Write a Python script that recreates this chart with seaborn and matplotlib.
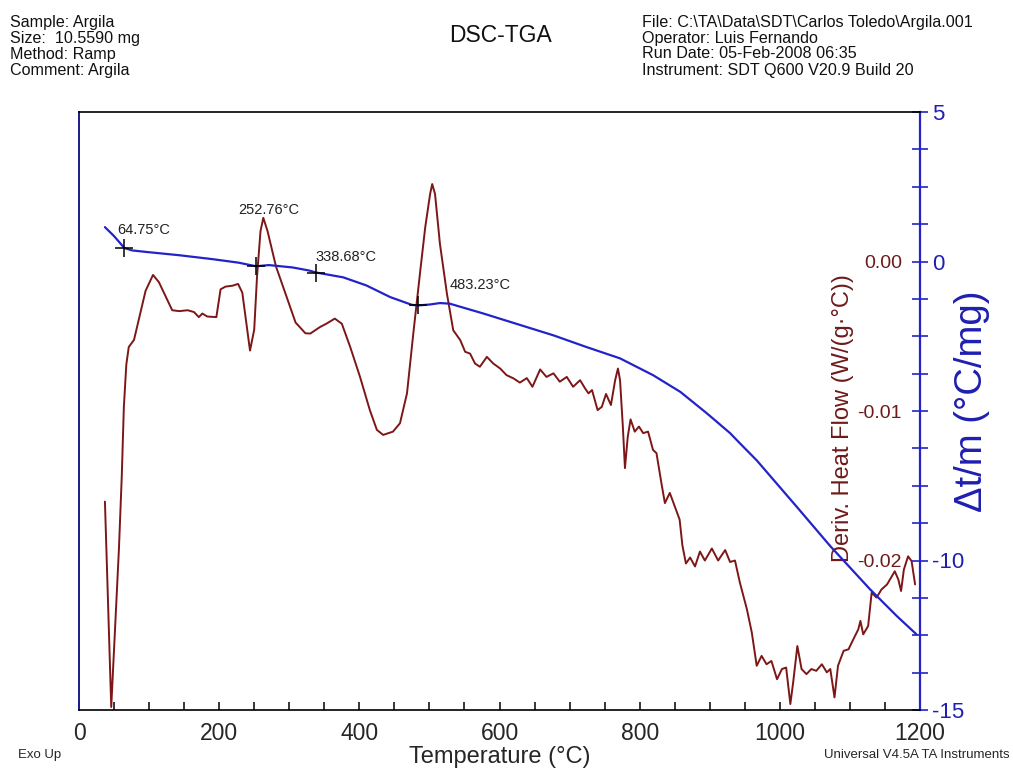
import numpy as np
import matplotlib
matplotlib.use("Agg")
import matplotlib.pyplot as plt
import seaborn as sns
from matplotlib.ticker import MultipleLocator

# ---------------- data ----------------
# Delta t / m curve (right axis, degC/mg)
temp_dt = [37, 50, 64.75, 76, 100, 143, 190, 228, 252.76, 271, 305, 328, 338.68,
           377, 410, 444, 475, 483.23, 500, 515, 529, 577, 629, 677, 724, 772,
           819, 858, 896, 929, 943, 967, 1024, 1072, 1129, 1167, 1195]
dt_values = [1.15, 0.85, 0.45, 0.37, 0.31, 0.21, 0.08, -0.04, -0.16, -0.12, -0.2,
             -0.3, -0.37, -0.53, -0.8, -1.19, -1.45, -1.47, -1.44, -1.39, -1.41,
             -1.74, -2.12, -2.47, -2.86, -3.24, -3.8, -4.36, -5.08, -5.74, -6.08,
             -6.65, -8.2, -9.52, -10.97, -11.86, -12.47]

# Derivative heat flow curve (W/(g·°C))
temp_hf = [37, 46, 57, 61, 64, 67.5, 71, 78.5, 85.6, 95, 105.6, 114, 126, 133, 143,
           155, 164, 171, 176, 183, 196, 202, 209, 219, 227, 233, 238, 244, 250,
           254, 259, 263, 269, 281, 295, 309, 323, 330, 344, 353, 365, 375, 387,
           401, 415, 425, 434, 448, 458, 468, 477, 487, 494, 501, 504, 508, 515,
           525, 534, 544, 551, 558, 565, 572, 582, 591, 601, 610, 620, 629, 639,
           647, 658, 667, 677, 686, 696, 705, 715, 722, 727, 732, 740, 746, 752,
           759, 765, 769, 772, 776, 779, 783, 787, 793, 799, 805, 812, 819, 824,
           831, 836, 843, 850, 857, 861, 866, 872, 879, 886, 893, 903, 912, 922,
           929, 936, 943, 953, 960, 967, 974, 981, 988, 996, 1003, 1009, 1015,
           1019, 1025, 1031, 1038, 1045, 1052, 1060, 1067, 1072, 1078, 1083, 1091,
           1098, 1105, 1112, 1115, 1119, 1126, 1131, 1138, 1145, 1153, 1160, 1164,
           1169, 1173, 1177, 1183, 1188, 1193]
hf_values = [-0.01606, -0.0298, -0.0192, -0.0144, -0.00974, -0.0069, -0.00572,
             -0.00524, -0.00384, -0.00196, -0.0009, -0.00138, -0.00256, -0.00326,
             -0.00332, -0.00326, -0.00338, -0.00372, -0.00348, -0.00368, -0.00372,
             -0.00186, -0.00168, -0.00162, -0.0015, -0.00208, -0.00384, -0.00596,
             -0.00456, -0.00102, 0.00204, 0.00292, 0.00204, -0.00032, -0.0022,
             -0.00408, -0.0048, -0.00482, -0.00438, -0.00416, -0.00382, -0.00416,
             -0.00572, -0.00772, -0.00994, -0.01126, -0.0116, -0.01138, -0.01082,
             -0.00882, -0.00482, -0.0006, 0.00228, 0.00452, 0.00518, 0.00452,
             0.00118, -0.00216, -0.0046, -0.00526, -0.00604, -0.00616, -0.00682,
             -0.00704, -0.00638, -0.00682, -0.00716, -0.0076, -0.00782, -0.0081,
             -0.0078, -0.00838, -0.00722, -0.00772, -0.00748, -0.00804, -0.00772,
             -0.00838, -0.00794, -0.00848, -0.00882, -0.0086, -0.00994, -0.00972,
             -0.00886, -0.0096, -0.00794, -0.00716, -0.00794, -0.01104, -0.01382,
             -0.01172, -0.01056, -0.01138, -0.01104, -0.01148, -0.01138, -0.0126,
             -0.01282, -0.01482, -0.01616, -0.01548, -0.01638, -0.01726, -0.019,
             -0.0202, -0.0198, -0.0204, -0.0194, -0.02, -0.0192, -0.02, -0.0193,
             -0.0201, -0.02, -0.02148, -0.02326, -0.02482, -0.02704, -0.02638,
             -0.02694, -0.02672, -0.02794, -0.02726, -0.02716, -0.0296, -0.02816,
             -0.02572, -0.02726, -0.0276, -0.02726, -0.02738, -0.02694, -0.02748,
             -0.02726, -0.02916, -0.02704, -0.02604, -0.02594, -0.02526, -0.0246,
             -0.02404, -0.02494, -0.02438, -0.02216, -0.02248, -0.02194, -0.0216,
             -0.02104, -0.02072, -0.02126, -0.02204, -0.0206, -0.01972, -0.02004,
             -0.0216]

event_temps = [64.75, 252.76, 338.68, 483.23]
event_labels = ["64.75°C", "252.76°C", "338.68°C", "483.23°C"]

x_ticks = [0, 200, 400, 600, 800, 1000, 1200]
dt_ticks = [5, 0, -5, -10, -15]
dt_tick_labels = ["5", "0", "", "-10", "-15"]
hf_ticks = [0.0, -0.01, -0.02]
hf_tick_labels = ["0.00", "-0.01", "-0.02"]

header_left = ["Sample: Argila", "Size:  10.5590 mg", "Method: Ramp", "Comment: Argila"]
header_right = ["File: C:\\TA\\Data\\SDT\\Carlos Toledo\\Argila.001",
                "Operator: Luis Fernando", "Run Date: 05-Feb-2008 06:35",
                "Instrument: SDT Q600 V20.9 Build 20"]

# ---------------- style ----------------
sns.set_style("white")
plt.rcParams["font.family"] = ["Liberation Sans", "DejaVu Sans"]
BLUE = "#2323c8"
BLUE_TXT = "#1f1fb0"
RED = "#7d1717"
RED_TXT = "#6e1a1a"

W, H = 1013, 773
fig = plt.figure(figsize=(W / 100, H / 100), dpi=100)
L, R, T, B = 79, 920, 112, 710
ax = fig.add_axes([L / W, 1 - B / H, (R - L) / W, (B - T) / H])
ax2 = ax.twinx()
ax.set_zorder(ax2.get_zorder() + 1)
ax.patch.set_visible(False)

sns.lineplot(x=temp_hf, y=hf_values, ax=ax2, color=RED, linewidth=1.4,
             estimator=None, sort=False)
sns.lineplot(x=temp_dt, y=dt_values, ax=ax, color=BLUE, linewidth=1.6,
             estimator=None, sort=False)

# event crosses on the blue curve
ev_y = np.interp(event_temps, temp_dt, dt_values)
ax.plot(event_temps, ev_y, linestyle="none", marker="+", markersize=13,
        markeredgewidth=1.1, color="black")
label_offsets = [(-10, 0.6), (-25, 1.88), (-1, 0.51), (45, 0.67)]
for t, yv, lab, (dx, dy) in zip(event_temps, ev_y, event_labels, label_offsets):
    ax.text(t + dx, yv + dy, lab, fontsize=10.5, color="#222222",
            ha="left", va="center")

# axis ranges / ticks
ax.set_xlim(0, 1200)
ax.set_ylim(-15, 5)
ax2.set_ylim(-0.03, 0.01)
ax.set_xticks(x_ticks)
ax.set_xticklabels([str(v) for v in x_ticks])
ax.xaxis.set_minor_locator(MultipleLocator(50))
ax.tick_params(axis="x", which="both", direction="in", length=6, width=1.1,
               color="black", labelsize=16.5, pad=9, top=False, bottom=True)

ax.yaxis.tick_right()
ax.yaxis.set_label_position("right")
ax.set_yticks(dt_ticks)
ax.set_yticklabels(dt_tick_labels)
ax.yaxis.set_minor_locator(MultipleLocator(1.25))
ax.tick_params(axis="y", which="both", direction="inout", length=11, width=1.2,
               color=BLUE, labelcolor=BLUE_TXT, labelsize=16, pad=3,
               left=False, right=True)

ax2.set_yticks(hf_ticks)
ax2.set_yticklabels(hf_tick_labels)
ax2.tick_params(axis="y", length=0, pad=-13, labelsize=14, labelcolor=RED_TXT)
for lbl in ax2.get_yticklabels():
    lbl.set_horizontalalignment("right")

ax.set_xlabel("Temperature (°C)", fontsize=17, labelpad=0)
ax.set_ylabel("Δt/m (°C/mg)", fontsize=27.5, color=BLUE_TXT)
ax.yaxis.set_label_coords(1.062, 0.517)
ax.yaxis.label.set_va("center")
ax2.set_ylabel("Deriv. Heat Flow (W/(g·°C))", fontsize=17, color=RED_TXT)
ax2.yaxis.set_label_coords(0.908, 0.488)
ax2.yaxis.label.set_va("center")

for s in ax2.spines.values():
    s.set_visible(False)
ax.spines["right"].set_color(BLUE)
ax.spines["right"].set_linewidth(1.6)
ax.spines["left"].set_color("#1c1c8c")
ax.spines["left"].set_linewidth(1.4)
ax.spines["top"].set_color("black")
ax.spines["top"].set_linewidth(1.2)
ax.spines["bottom"].set_color("black")
ax.spines["bottom"].set_linewidth(1.2)
ax.grid(False)
ax2.grid(False)

# header / footer texts
line_y = [22, 38, 54, 70]
for yv, txt in zip(line_y, header_left):
    fig.text(10 / W, 1 - yv / H, txt, fontsize=11.6, ha="left", va="center",
             color="#111111")
for yv, txt in zip(line_y, header_right):
    fig.text(642 / W, 1 - yv / H, txt, fontsize=11.6, ha="left", va="center",
             color="#111111")
fig.text(500 / W, 1 - 35 / H, "DSC-TGA", fontsize=16.5, ha="center", va="center",
         color="#111111")
fig.text(18 / W, 1 - 755 / H, "Exo Up", fontsize=9.5, ha="left", va="center")
fig.text(1010 / W, 1 - 755 / H, "Universal V4.5A TA Instruments", fontsize=9.5,
         ha="right", va="center")

fig.savefig("out.png", dpi=100)
